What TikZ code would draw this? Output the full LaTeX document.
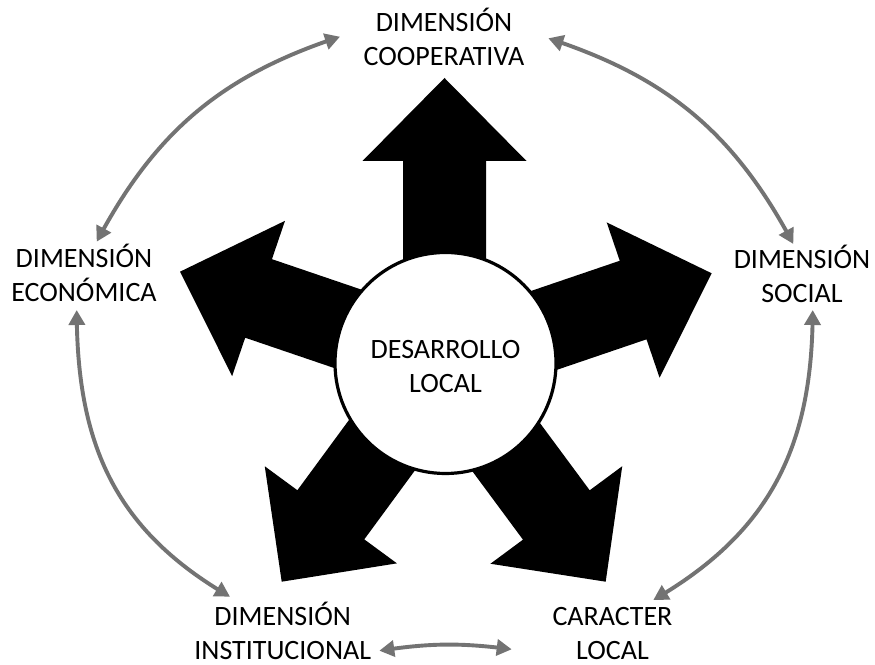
\documentclass[tikz,border=0pt]{standalone}
\usepackage{fontspec}
\setmainfont{Carlito}
\usetikzlibrary{arrows.meta,bending}
\definecolor{arcgray}{RGB}{115,115,115}
\begin{document}
\begin{tikzpicture}[x=1pt,y=1pt,
  lbl/.style={align=center,font=\fontsize{28}{34.5}\selectfont,inner sep=0pt,anchor=base},
  link/.style={draw=arcgray,line width=3.9pt,{Triangle[length=15pt,width=16pt]}-{Triangle[length=15pt,width=16pt]}},
  bigarrow/.pic={\fill[black] (0,0) -- (-83,82) -- (-83,41.5) -- (-230,41.5) -- (-230,-41.5) -- (-83,-41.5) -- (-83,-82) -- cycle;}]
\useasboundingbox (0,0) rectangle (875,664);
\fill[white] (0,0) rectangle (875,664);
% black arrows
\pic[rotate=90] at (444.5,586) {bigarrow};
\pic[rotate=18.8] at (711.7,390.7) {bigarrow};
\pic[rotate=161.2] at (180,392.3) {bigarrow};
\pic[rotate=233.7] at (281.7,82.3) {bigarrow};
\pic[rotate=306.5] at (605.7,82.3) {bigarrow};
% centre
\node[circle,draw=black,fill=white,line width=3.2pt,minimum size=221pt,inner sep=0pt,
      align=center,font=\fontsize{28}{34.5}\selectfont] (dl) at (445.5,301) {\rule{0pt}{25pt}DESARROLLO\\LOCAL};
% labels (anchor = baseline of last line)
\node[lbl] (coop) at (444,598) {DIMENSIÓN\\COOPERATIVA};
\node[lbl] (econ) at (84,362) {DIMENSIÓN\\ECONÓMICA};
\node[lbl] (soc) at (802,361) {DIMENSIÓN\\SOCIAL};
\node[lbl] (inst) at (282.7,4.5) {DIMENSIÓN\\INSTITUCIONAL};
\node[lbl] (loc) at (612.5,4.5) {CARACTER\\LOCAL};
% link end points
\coordinate (a1) at (96.7,422.3);
\coordinate (b1) at (340,627.3);
\coordinate (a2) at (548.3,625.7);
\coordinate (b2) at (793.3,420);
\coordinate (a3) at (812.7,354);
\coordinate (b3) at (653.3,64);
\coordinate (a4) at (76.7,354);
\coordinate (b4) at (230,67.3);
\coordinate (a5) at (379.3,13.3);
\coordinate (b5) at (511.7,14.7);
\draw[link] (a1) to[bend left=22] (b1);
\draw[link] (a2) to[bend left=22] (b2);
\draw[link] (a3) to[out=-90,in=30,looseness=1.05] (b3);
\draw[link] (a4) to[out=-90,in=150,looseness=1.05] (b4);
\draw[link] (a5) to[bend left=8] (b5);
\end{tikzpicture}
\end{document}
